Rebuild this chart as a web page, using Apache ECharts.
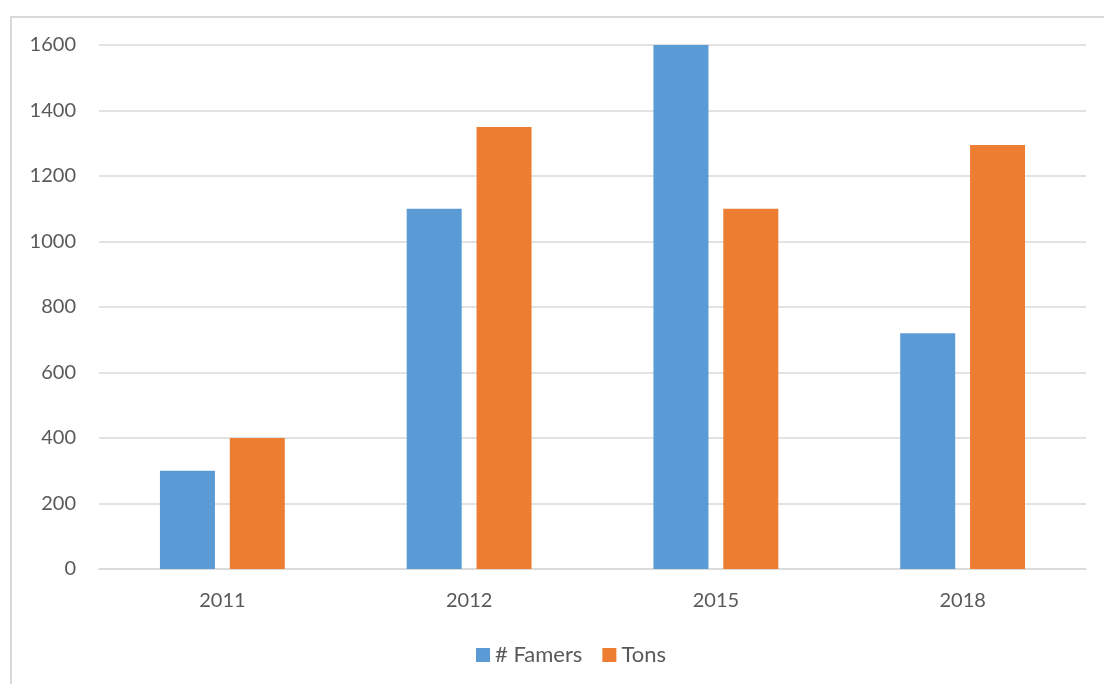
<!DOCTYPE html>
<html>
<head>
<meta charset="utf-8">
<style>
  html, body { margin: 0; padding: 0; background: #fff; }
  #chart { width: 1104px; height: 684px; }
</style>
<script src="https://cdn.jsdelivr.net/npm/echarts@6/dist/echarts.min.js"></script>
</head>
<body>
<div id="chart"></div>
<script>
// Yearly figures per category
const years = ['2011', '2012', '2015', '2018'];
const farmers = [300, 1100, 1600, 720];
const tons = [400, 1350, 1100, 1295];

const textColor = '#595959';
const fontFamily = 'Lato, "Open Sans", sans-serif';

const chart = echarts.init(document.getElementById('chart'));
chart.setOption({
  animation: false,
  backgroundColor: '#ffffff',
  textStyle: { fontFamily: fontFamily, color: textColor },
  graphic: [{
    type: 'rect',
    shape: { x: 11, y: 17, width: 1200, height: 800 },
    style: { fill: 'none', stroke: '#d9d9d9', lineWidth: 2 },
    silent: true
  }],
  grid: { left: 99, right: 18, top: 45, bottom: 115, containLabel: false },
  legend: {
    bottom: 13,
    left: 471,
    itemWidth: 14,
    itemHeight: 14,
    itemGap: 20,
    icon: 'rect',
    textStyle: { fontSize: 22, color: textColor, fontFamily: fontFamily, padding: [0, 0, 0, 0] },
    data: ['# Famers', 'Tons']
  },
  xAxis: {
    type: 'category',
    data: years,
    axisLine: { lineStyle: { color: '#d9d9d9', width: 1.5 } },
    axisTick: { show: false },
    axisLabel: { fontSize: 20, color: textColor, margin: 22 }
  },
  yAxis: {
    type: 'value',
    min: 0,
    max: 1600,
    interval: 200,
    axisLine: { show: false },
    axisTick: { show: false },
    axisLabel: { fontSize: 20, color: textColor, margin: 23, formatter: (v) => String(v) },
    splitLine: { lineStyle: { color: '#d9d9d9', width: 1.5 } }
  },
  series: [
    {
      name: '# Famers',
      type: 'bar',
      data: farmers,
      barWidth: 55,
      barGap: '27%',
      itemStyle: { color: '#5b9bd5' }
    },
    {
      name: 'Tons',
      type: 'bar',
      data: tons,
      barWidth: 55,
      barGap: '27%',
      itemStyle: { color: '#ed7d31' }
    }
  ]
});
</script>
</body>
</html>
